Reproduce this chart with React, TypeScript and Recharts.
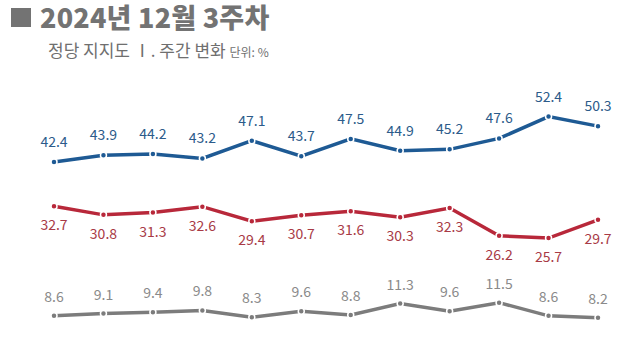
import { LabelList, Line, LineChart, XAxis, YAxis } from "recharts";

const weeks = [
  "10월 1주", "10월 2주", "10월 3주", "10월 4주", "10월 5주", "11월 1주",
  "11월 2주", "11월 3주", "11월 4주", "12월 1주", "12월 2주", "12월 3주",
];
const blueSeries = [42.4, 43.9, 44.2, 43.2, 47.1, 43.7, 47.5, 44.9, 45.2, 47.6, 52.4, 50.3];
const redSeries = [32.7, 30.8, 31.3, 32.6, 29.4, 30.7, 31.6, 30.3, 32.3, 26.2, 25.7, 29.7];
const graySeries = [8.6, 9.1, 9.4, 9.8, 8.3, 9.6, 8.8, 11.3, 9.6, 11.5, 8.6, 8.2];

const data = weeks.map((week, i) => ({
  week,
  blue: blueSeries[i],
  red: redSeries[i],
  gray: graySeries[i],
}));

const FONT = "'Noto Sans CJK KR', 'Noto Sans', sans-serif";

const series = [
  { key: "blue", color: "#1e5a94", text: "#2c5b8a", pos: "top" as const, offset: 15 },
  { key: "red", color: "#b8283a", text: "#a83a46", pos: "bottom" as const, offset: 14 },
  { key: "gray", color: "#7c7c7c", text: "#8a8a8a", pos: "top" as const, offset: 14 },
];

export default function App() {
  return (
    <div
      style={{
        position: "absolute",
        left: 0,
        top: 0,
        width: 640,
        height: 360,
        background: "#fff",
        fontFamily: FONT,
        overflow: "hidden",
      }}
    >
      <div
        style={{
          position: "absolute",
          left: 11,
          top: 8,
          width: 20,
          height: 19,
          background: "#737373",
        }}
      />
      <div
        style={{
          position: "absolute",
          left: 40,
          top: 2,
          fontSize: 27,
          fontWeight: 900,
          lineHeight: "30px",
          color: "#737373",
          letterSpacing: 0.2,
          whiteSpace: "nowrap",
        }}
      >
        2024년 12월 3주차
      </div>
      <div
        style={{
          position: "absolute",
          left: 48,
          top: 38,
          fontSize: 17,
          lineHeight: "24px",
          color: "#6f6f6f",
          whiteSpace: "nowrap",
        }}
      >
        정당 지지도 Ⅰ. 주간 변화{" "}
        <span style={{ fontSize: 12 }}>단위: %</span>
      </div>
      <div style={{ position: "absolute", left: 0, top: 0 }}>
        <LineChart
          width={640}
          height={360}
          data={data}
          margin={{ top: 82, right: 42, bottom: 5, left: 54 }}
        >
          <XAxis dataKey="week" hide />
          <YAxis hide domain={[0, 60]} />
          {series.map((s) => (
            <Line
              key={s.key}
              type="linear"
              dataKey={s.key}
              stroke={s.color}
              strokeWidth={3.5}
              dot={{ r: 3, fill: s.color, stroke: "#fff", strokeWidth: 1.5 }}
              isAnimationActive={false}
            >
              <LabelList
                dataKey={s.key}
                position={s.pos}
                offset={s.offset}
                fill={s.text}
                fontSize={14}
                fontFamily={FONT}
              />
            </Line>
          ))}
        </LineChart>
      </div>
    </div>
  );
}
